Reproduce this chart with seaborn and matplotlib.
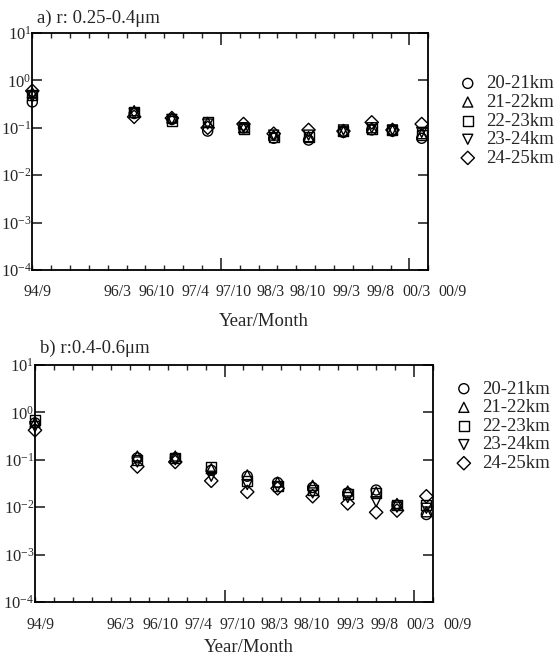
import numpy as np
import pandas as pd
import matplotlib
matplotlib.use("Agg")
import matplotlib.pyplot as plt
import matplotlib.ticker as mticker
import matplotlib.transforms as mtransforms
import seaborn as sns

# sampling times, days after 94/9
days = [0, 540, 740, 930, 1120, 1280, 1465, 1650, 1800, 1910, 2065]

# typed month labels under the axis and where they sit (days)
date_labels = ["94/9", "96/3", "96/10", "97/4", "97/10", "98/3",
               "98/10", "99/3", "99/8", "00/3", "00/9"]
label_days = [30, 450, 660, 865, 1068, 1265, 1462, 1665, 1845, 2035, 2230]

altitudes = ["20-21km", "21-22km", "22-23km", "23-24km", "24-25km"]
markers = ["o", "^", "s", "v", "D"]

# a) r: 0.25-0.4 um
a_20_21 = [0.35, 0.20, 0.15, 0.085, 0.10, 0.060, 0.055, 0.080, 0.090, 0.085, 0.060]
a_21_22 = [0.55, 0.23, 0.16, 0.13, 0.10, 0.070, 0.065, 0.085, 0.10, 0.090, 0.075]
a_22_23 = [0.50, 0.21, 0.14, 0.13, 0.095, 0.065, 0.065, 0.085, 0.095, 0.090, 0.070]
a_23_24 = [0.45, 0.20, 0.15, 0.12, 0.10, 0.070, 0.070, 0.090, 0.10, 0.090, 0.080]
a_24_25 = [0.60, 0.17, 0.16, 0.10, 0.12, 0.075, 0.090, 0.085, 0.13, 0.090, 0.12]

# b) r: 0.4-0.6 um
b_20_21 = [0.60, 0.11, 0.11, 0.060, 0.045, 0.033, 0.026, 0.020, 0.023, 0.011, 0.0070]
b_21_22 = [0.62, 0.12, 0.12, 0.065, 0.048, 0.034, 0.029, 0.022, 0.021, 0.012, 0.0080]
b_22_23 = [0.70, 0.10, 0.11, 0.070, 0.036, 0.028, 0.023, 0.019, 0.020, 0.011, 0.011]
b_23_24 = [0.50, 0.090, 0.10, 0.045, 0.030, 0.027, 0.020, 0.016, 0.013, 0.010, 0.0095]
b_24_25 = [0.42, 0.072, 0.090, 0.036, 0.021, 0.025, 0.017, 0.012, 0.0078, 0.0085, 0.017]


def long_frame(series):
    return pd.DataFrame({
        "day": days * len(series),
        "value": np.concatenate(series),
        "alt": np.repeat(altitudes, len(days)),
    })


df_a = long_frame([a_20_21, a_21_22, a_22_23, a_23_24, a_24_25])
df_b = long_frame([b_20_21, b_21_22, b_22_23, b_23_24, b_24_25])

sns.set_theme(style="ticks")
plt.rcParams["font.family"] = ["Liberation Serif", "DejaVu Serif"]
plt.rcParams["mathtext.fontset"] = "custom"
plt.rcParams["mathtext.rm"] = "Liberation Serif"
plt.rcParams["axes.linewidth"] = 1.3

fig = plt.figure(figsize=(5.59, 6.63), dpi=100)
ax_a = fig.add_axes([0.0578, 0.5928, 0.7084, 0.3575])
ax_b = fig.add_axes([0.0626, 0.0920, 0.7120, 0.3575])


def draw_panel(ax, df, title, title_y, legend_xy, xlabel_xy):
    ax.set_yscale("log")
    for alt, m in zip(altitudes, markers):
        sub = df[df["alt"] == alt]
        sns.scatterplot(
            data=sub, x="day", y="value", marker=m,
            s=46 if m == "D" else 52,
            facecolors="none", edgecolor="black", linewidth=1.0,
            label=alt, legend=False, clip_on=False, zorder=3, ax=ax,
        )
    ax.set_xlim(0, 2100)
    ax.set_ylim(1e-4, 1e1)
    ax.set_xlabel("")
    ax.set_ylabel("")

    # x ticks: short every 100 days, long at 1000 / 2000, no numbers
    ax.xaxis.set_major_locator(mticker.FixedLocator([1000, 2000]))
    ax.xaxis.set_minor_locator(mticker.MultipleLocator(100))
    ax.xaxis.set_major_formatter(mticker.NullFormatter())
    ax.tick_params(axis="x", which="major", direction="in", length=8.5,
                   width=1.2, top=True, bottom=True)
    ax.tick_params(axis="x", which="minor", direction="in", length=3.5,
                   width=1.0, top=True, bottom=True)

    ax.yaxis.set_major_locator(mticker.LogLocator(base=10, numticks=10))
    ax.yaxis.set_minor_locator(mticker.NullLocator())
    ax.tick_params(axis="y", which="major", direction="in", length=7,
                   width=1.2, left=True, right=True, labelsize=12, pad=0.5)

    for sp in ax.spines.values():
        sp.set_visible(True)
        sp.set_color("black")

    trans = mtransforms.blended_transform_factory(ax.transData, ax.transAxes)
    for d, lab in zip(label_days, date_labels):
        ax.text(d, -0.095, lab, transform=trans, ha="center", va="center",
                fontsize=11.4, clip_on=False)

    ax.text(xlabel_xy[0], xlabel_xy[1], "Year/Month", transform=ax.transAxes,
            ha="center", va="center", fontsize=13.5)
    ax.text(0.012, title_y, title, transform=ax.transAxes, ha="left",
            va="center", fontsize=13.5)

    ax.legend(loc="center left", bbox_to_anchor=legend_xy,
              bbox_transform=fig.transFigure, frameon=False, fontsize=13.5,
              handlelength=1.0, handletextpad=0.5, labelspacing=0.08,
              borderpad=0, borderaxespad=0, scatterpoints=1)


draw_panel(ax_a, df_a, "a) r: 0.25-0.4μm", 1.063, (0.820, 0.8175), (0.585, -0.219))
draw_panel(ax_b, df_b, "b) r:0.4-0.6μm", 1.072, (0.813, 0.357), (0.538, -0.194))

fig.savefig("out.png", dpi=100, facecolor="white")
